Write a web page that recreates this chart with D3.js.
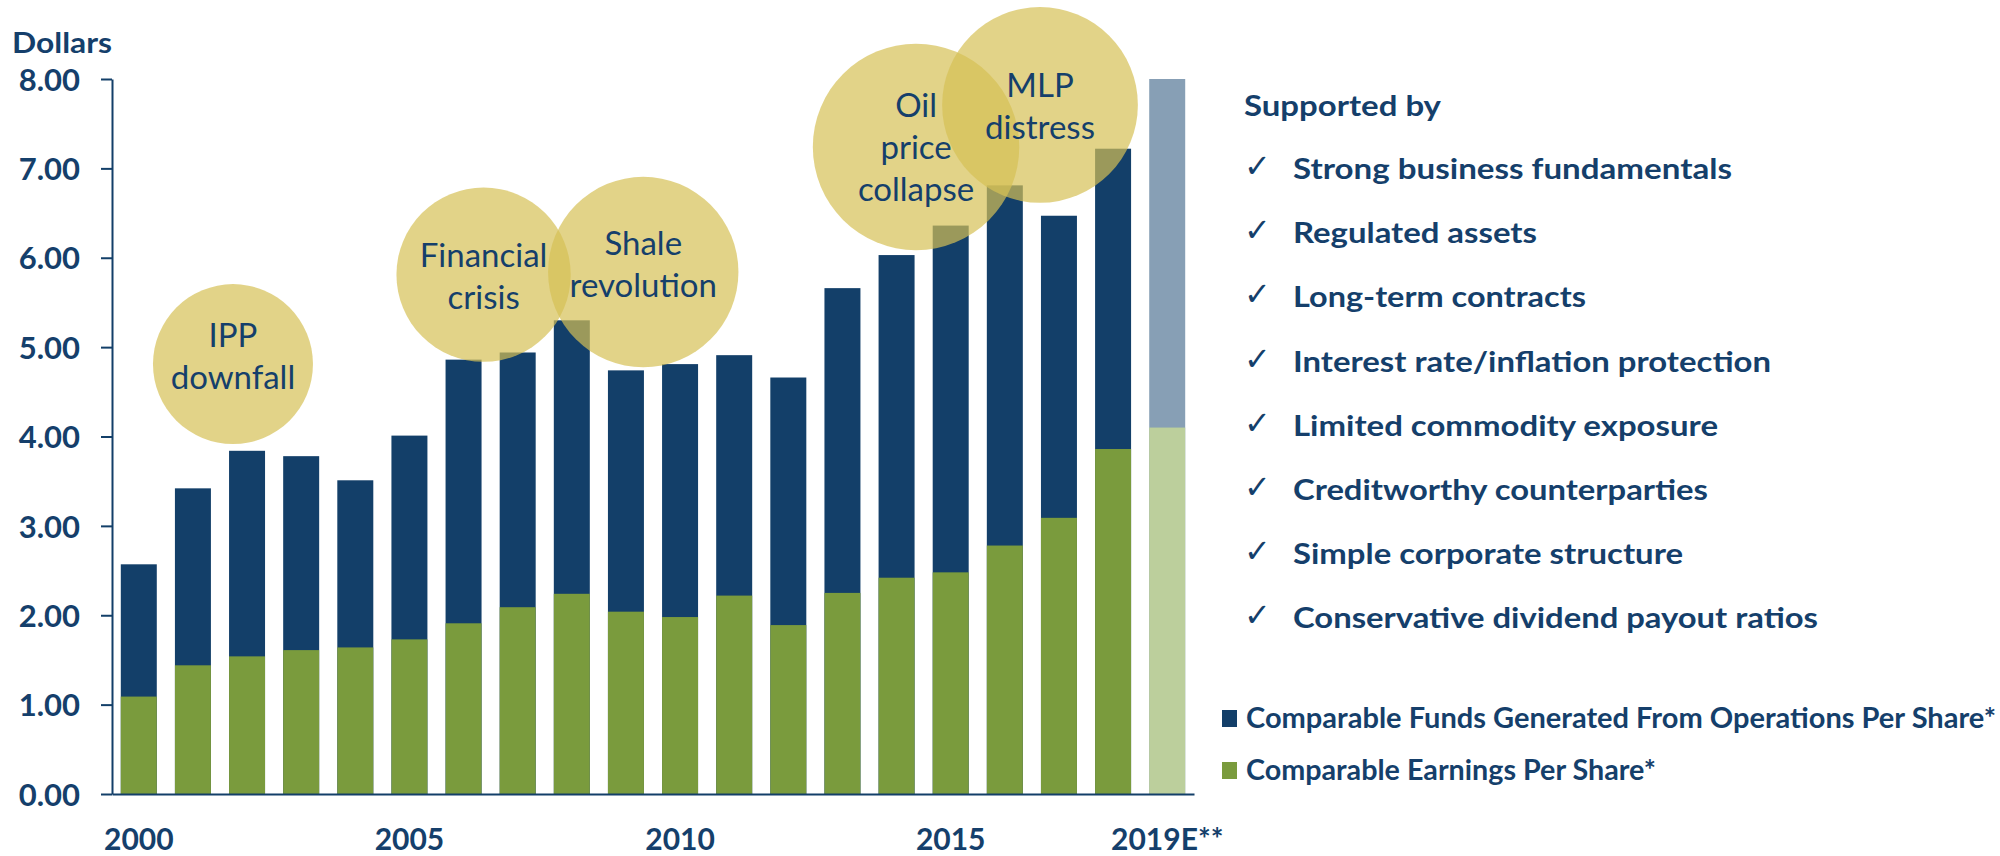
<!DOCTYPE html>
<html>
<head>
<meta charset="utf-8">
<script src="https://cdn.jsdelivr.net/npm/d3@7"></script>
<style>
  html, body { margin: 0; padding: 0; background: #ffffff; }
  svg { display: block; }
  text { font-family: Lato, "Open Sans", "Noto Sans", sans-serif; }
</style>
</head>
<body>
<svg id="chart" width="2000" height="856"></svg>
<script>
// ---- data -------------------------------------------------------------
const years = ["2000","2001","2002","2003","2004","2005","2006","2007","2008","2009",
               "2010","2011","2012","2013","2014","2015","2016","2017","2018","2019E"];
// Comparable funds generated from operations per share (dollars)
const ffoPerShare = [2.57,3.42,3.84,3.78,3.51,4.01,4.86,4.94,5.30,4.74,
                     4.81,4.91,4.66,5.66,6.03,6.36,6.81,6.47,7.22,8.00];
// Comparable earnings per share (dollars)
const epsPerShare = [1.09,1.44,1.54,1.61,1.64,1.73,1.91,2.09,2.24,2.04,
                     1.98,2.22,1.89,2.25,2.42,2.48,2.78,3.09,3.86,4.10];
const yTickValues = [0,1,2,3,4,5,6,7,8];
const xTickYears  = ["2000","2005","2010","2015","2019E"];
const xTickText   = ["2000","2005","2010","2015","2019E**"];

const supportTitle = "Supported by";
const supportPoints = [
  "Strong business fundamentals",
  "Regulated assets",
  "Long-term contracts",
  "Interest rate/inflation protection",
  "Limited commodity exposure",
  "Creditworthy counterparties",
  "Simple corporate structure",
  "Conservative dividend payout ratios"
];
const supportWidths = [439,244,293,478,425,415,390,525];

const legendLabels = [
  "Comparable Funds Generated From Operations Per Share*",
  "Comparable Earnings Per Share*"
];
const legendWidths = [750,410];

// Market events: anchor as fractional year index and dollar value, radius in dollars
const eventLabels  = [["IPP","downfall"],["Financial","crisis"],["Shale","revolution"],
                      ["Oil","price","collapse"],["MLP","distress"]];
const eventAt      = [1.74, 6.37, 9.32, 14.36, 16.65];
const eventValue   = [4.81, 5.81, 5.84, 7.24, 7.71];
const eventRadius  = [0.895, 0.975, 1.065, 1.155, 1.095];
const eventTextDy  = [-17, -8, -17, -30, -8];

// ---- styles -----------------------------------------------------------
const NAVY = "#133f69";
const TEXT = "#153f6b";
const GREEN = "#7a9b3d";
const NAVY_EST = "#879fb5";
const GREEN_EST = "#bccf9c";
const BUBBLE = "#d6c056";

const svg = d3.select("#chart");

// ---- scales -----------------------------------------------------------
const x = d3.scaleBand().domain(years).range([112, 1194])
  .paddingInner(0.335).paddingOuter(0.1625);
const y = d3.scaleLinear().domain([0, 8]).range([794, 79]);
const xAt = i => x(years[0]) + x.bandwidth() / 2 + i * x.step();
const isEst = yr => yr.endsWith("E");

// ---- bars -------------------------------------------------------------
const rows = years.map((yr, i) => ({ yr, ffo: ffoPerShare[i], eps: epsPerShare[i] }));

svg.append("g").selectAll("rect").data(rows).join("rect")
  .attr("x", d => x(d.yr)).attr("width", x.bandwidth())
  .attr("y", d => y(d.ffo)).attr("height", d => y(0) - y(d.ffo))
  .attr("fill", d => isEst(d.yr) ? NAVY_EST : NAVY);

svg.append("g").selectAll("rect").data(rows).join("rect")
  .attr("x", d => x(d.yr)).attr("width", x.bandwidth())
  .attr("y", d => y(d.eps)).attr("height", d => y(0) - y(d.eps))
  .attr("fill", d => isEst(d.yr) ? GREEN_EST : GREEN);

// ---- axes -------------------------------------------------------------
const yAxis = svg.append("g").attr("transform", "translate(112,0)")
  .call(d3.axisLeft(y).tickValues(yTickValues).tickFormat(d3.format(".2f"))
        .tickSize(11).tickSizeOuter(0).tickPadding(21));
yAxis.select(".domain").attr("stroke", NAVY).attr("stroke-width", 2);
yAxis.selectAll(".tick line").attr("stroke", NAVY).attr("stroke-width", 2);
yAxis.selectAll(".tick text")
  .attr("fill", TEXT).attr("font-size", 31).attr("font-weight", 700)
  .attr("dy", "0.36em");

const xAxis = svg.append("g").attr("transform", "translate(0,794)")
  .call(d3.axisBottom(x).tickValues(xTickYears)
        .tickFormat(d => xTickText[xTickYears.indexOf(d)])
        .tickSize(0).tickSizeOuter(0));
xAxis.select(".domain").attr("stroke", NAVY).attr("stroke-width", 2);
xAxis.selectAll(".tick text")
  .attr("fill", TEXT).attr("font-size", 30).attr("font-weight", 700)
  .attr("y", 56).attr("dy", 0);

svg.append("text").attr("x", 12).attr("y", 53)
  .attr("fill", TEXT).attr("font-size", 29).attr("font-weight", 700)
  .attr("textLength", 100).attr("lengthAdjust", "spacingAndGlyphs")
  .text("Dollars");

// ---- event bubbles ----------------------------------------------------
const events = eventLabels.map((lines, i) => ({
  lines, cx: xAt(eventAt[i]), cy: y(eventValue[i]),
  r: y(0) - y(eventRadius[i]), dy: eventTextDy[i]
}));

svg.append("g").selectAll("circle").data(events).join("circle")
  .attr("cx", d => d.cx).attr("cy", d => d.cy).attr("r", d => d.r)
  .attr("fill", BUBBLE).attr("fill-opacity", 0.7);

const evText = svg.append("g").selectAll("text").data(events).join("text")
  .attr("text-anchor", "middle").attr("fill", TEXT)
  .attr("font-size", 33).attr("font-weight", 400);
evText.selectAll("tspan").data(d => d.lines.map((t, k) => ({ t, k, d }))).join("tspan")
  .attr("x", o => o.d.cx)
  .attr("y", o => o.d.cy + o.d.dy + o.k * 42)
  .text(o => o.t);

// ---- supporting points ------------------------------------------------
svg.append("text").attr("x", 1244).attr("y", 116)
  .attr("fill", TEXT).attr("font-size", 29).attr("font-weight", 700)
  .attr("textLength", 197).attr("lengthAdjust", "spacingAndGlyphs")
  .text(supportTitle);

const pts = svg.append("g").selectAll("g").data(supportPoints).join("g")
  .attr("transform", (d, i) => `translate(0,${179 + i * 64.2})`);
pts.append("text").attr("x", 1244).attr("y", -2)
  .attr("fill", TEXT).attr("font-size", 32)
  .style("font-family", "'DejaVu Sans', sans-serif")
  .text("\u2713");
pts.append("text").attr("x", 1293).attr("y", 0)
  .attr("fill", TEXT).attr("font-size", 29).attr("font-weight", 700)
  .attr("textLength", (d, i) => supportWidths[i]).attr("lengthAdjust", "spacingAndGlyphs")
  .text(d => d);

// ---- legend -----------------------------------------------------------
const legendColors = [NAVY, GREEN];
const lg = svg.append("g").selectAll("g").data(legendLabels).join("g")
  .attr("transform", (d, i) => `translate(0,${718 + i * 52})`);
lg.append("rect").attr("x", 1222).attr("y", -8).attr("width", 15).attr("height", 17)
  .attr("fill", (d, i) => legendColors[i]);
lg.append("text").attr("x", 1246).attr("y", 10)
  .attr("fill", TEXT).attr("font-size", 28).attr("font-weight", 700)
  .attr("textLength", (d, i) => legendWidths[i]).attr("lengthAdjust", "spacingAndGlyphs")
  .text(d => d);
</script>
</body>
</html>
